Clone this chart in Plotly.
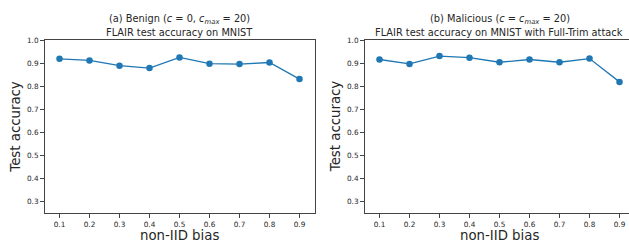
import plotly.graph_objects as go

bias = [0.1, 0.2, 0.3, 0.4, 0.5, 0.6, 0.7, 0.8, 0.9]
benign_acc = [0.919, 0.912, 0.889, 0.879, 0.925, 0.898, 0.896, 0.903, 0.831]
malicious_acc = [0.916, 0.897, 0.931, 0.924, 0.904, 0.916, 0.904, 0.920, 0.819]
xtick_vals = [0.1, 0.2, 0.3, 0.4, 0.5, 0.6, 0.7, 0.8, 0.9]
ytick_vals = [0.3, 0.4, 0.5, 0.6, 0.7, 0.8, 0.9, 1.0]

W, H = 629, 246
BLUE = "#1f77b4"
FONT = "DejaVu Sans"
AX = "#444444"
TXT = "#262626"

def px(x):
    return x / W

def py(y):
    return 1 - y / H

fig = go.Figure()
fig.add_trace(go.Scatter(x=bias, y=benign_acc, mode="lines+markers", xaxis="x", yaxis="y",
                         line=dict(color=BLUE, width=1.3), marker=dict(color=BLUE, size=6.5),
                         showlegend=False))
fig.add_trace(go.Scatter(x=bias, y=malicious_acc, mode="lines+markers", xaxis="x2", yaxis="y2",
                         line=dict(color=BLUE, width=1.3), marker=dict(color=BLUE, size=6.5),
                         showlegend=False))

L1, R1 = 44.5, 314.5
L2, R2 = 364.5, 629.0
TOP, BOT = 36.7, 212.7

common_x = dict(showgrid=False, zeroline=False, showline=True, linecolor=AX, linewidth=1,
                mirror=True, ticks="outside", ticklen=3.5, tickwidth=0.8, tickcolor=AX,
                tickvals=xtick_vals, ticktext=[f"{v:.1f}" for v in xtick_vals],
                tickfont=dict(family=FONT, size=7.3, color=TXT))
common_y = dict(showgrid=False, zeroline=False, showline=True, linecolor=AX, linewidth=1,
                ticks="outside", ticklen=3.5, tickwidth=0.8, tickcolor=AX,
                tickvals=ytick_vals, ticktext=[f"{v:.1f}" for v in ytick_vals],
                tickfont=dict(family=FONT, size=7.3, color=TXT), range=[0.25, 1.0])

fig.update_layout(
    width=W, height=H,
    margin=dict(l=0, r=0, t=0, b=0),
    paper_bgcolor="white", plot_bgcolor="white",
    xaxis=dict(domain=[px(L1), px(R1)], range=[0.05, 0.95], anchor="y", **common_x),
    yaxis=dict(domain=[py(BOT), py(TOP)], anchor="x", mirror=True, **common_y),
    xaxis2=dict(domain=[px(L2), 1.0], range=[0.05, 0.05 + (R2 - L2) / 300.0], anchor="y2", **common_x),
    yaxis2=dict(domain=[py(BOT), py(TOP)], anchor="x2", mirror=False, **common_y),
)

ann = []
def text(x, y, s, size, angle=0):
    ann.append(dict(x=px(x), y=py(y), xref="paper", yref="paper", text=s, showarrow=False,
                    textangle=angle, xanchor="center", yanchor="middle",
                    font=dict(family=FONT, size=size, color=TXT)))

text(179.5, 15.7, "(a) Benign (<i>c</i> = 0, <i>c</i><sub><i>max</i></sub> = 20)", 9.8)
text(179.5, 29.0, "FLAIR test accuracy on MNIST", 9.8)
text(500.0, 15.7, "(b) Malicious (<i>c</i> = <i>c</i><sub><i>max</i></sub> = 20)", 9.8)
text(499.5, 29.0, "FLAIR test accuracy on MNIST with Full-Trim attack", 9.8)
text(16.0, 124.7, "Test accuracy", 13.3, -90)
text(335.5, 124.7, "Test accuracy", 13.3, -90)
text(179.5, 235.0, "non-IID bias", 13.3)
text(499.5, 235.0, "non-IID bias", 13.3)
fig.update_layout(annotations=ann)

fig.write_html("out.html",
               config={"displayModeBar": False},
               post_script="document.body.style.margin='0';document.body.style.padding='0';"
                           "document.body.style.overflow='hidden';")
